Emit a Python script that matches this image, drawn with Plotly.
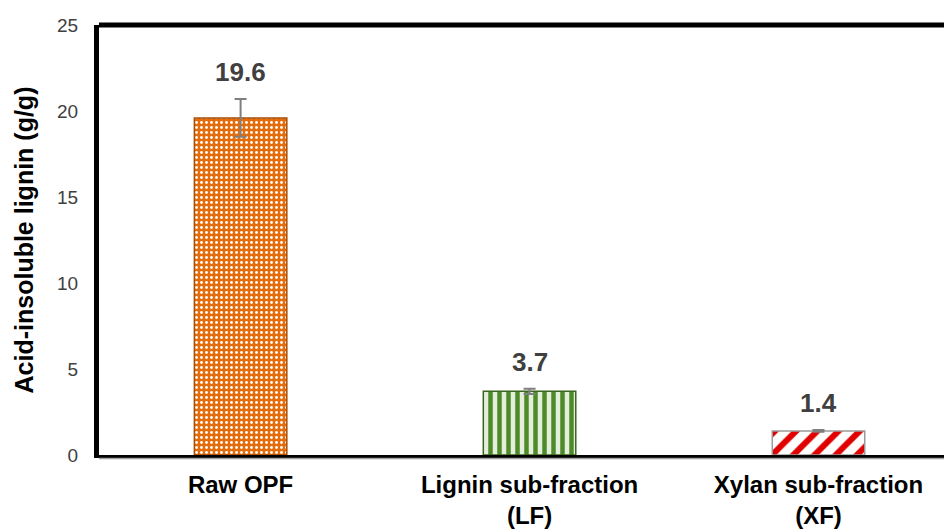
import plotly.graph_objects as go

categories = ["Raw OPF", "Lignin sub-fraction<br>(LF)", "Xylan sub-fraction<br>(XF)"]
values = [19.6, 3.7, 1.4]
errors = [1.1, 0.15, 0.05]
labels = ["19.6", "3.7", "1.4"]
y_ticks = [0, 5, 10, 15, 20, 25]

styles = [
    dict(shape=".", fg="#FFFFFF", bg="#E46C0A", size=5, solidity=0.25, edge="#A84E06"),
    dict(shape="|", fg="#4E8A2A", bg="#E3EFDA", size=9, solidity=0.5, edge="#3A6620"),
    dict(shape="/", fg="#E00000", bg="#FFFFFF", size=15, solidity=0.4, edge="#9A9A9A"),
]

x_pos = list(range(len(categories)))

fig = go.Figure()
for xi, v, e, s in zip(x_pos, values, errors, styles):
    fig.add_trace(go.Bar(
        x=[xi], y=[v], width=0.32,
        marker=dict(
            color=s["bg"],
            line=dict(color=s["edge"], width=1.5),
            pattern=dict(shape=s["shape"], fgcolor=s["fg"], bgcolor=s["bg"],
                         size=s["size"], solidity=s["solidity"], fillmode="replace"),
        ),
        error_y=dict(type="data", array=[e], visible=True,
                     color="#7F7F7F", thickness=2, width=6),
        showlegend=False,
    ))

for xi, v, e, t in zip(x_pos, values, errors, labels):
    fig.add_annotation(x=xi, y=v + e, text=f"<b>{t}</b>", showarrow=False,
                       yshift=27, yanchor="middle",
                       font=dict(family="Arial, Liberation Sans", size=26, color="#404040"))

# top border
fig.add_shape(type="line", xref="paper", yref="y domain", x0=0, x1=1, y0=1, y1=1,
              line=dict(color="black", width=5))
# gray double line under x axis
fig.add_shape(type="line", xref="paper", yref="y domain", x0=0, x1=1,
              ysizemode="pixel", yanchor=0, y0=-3.5, y1=-3.5,
              line=dict(color="#A0A0A0", width=1.5))

fig.update_layout(
    width=944, height=523,
    margin=dict(l=91, r=0, t=17, b=76),
    paper_bgcolor="white", plot_bgcolor="white",
    font=dict(family="Arial, Liberation Sans", color="black"),
    barmode="overlay",
)
fig.update_xaxes(
    range=[-0.49, 2.462], tickvals=x_pos,
    ticktext=[f"<b>{c}</b>".replace("<br>", "</b><br><b>") for c in categories],
    showline=True, linecolor="black", linewidth=2.5,
    showgrid=False, zeroline=False, ticks="", automargin=False,
    ticklabelstandoff=6,
    tickfont=dict(size=24, color="black", family="Arial, Liberation Sans"),
    tickangle=0,
)
fig.update_yaxes(
    range=[0, 25], tickvals=y_ticks,
    showline=True, linecolor="black", linewidth=5,
    showgrid=False, zeroline=False, ticks="", automargin=False,
    ticklabelstandoff=12,
    tickfont=dict(size=19, color="#404040", family="Arial, Liberation Sans"),
    title=dict(text="<b>Acid-insoluble lignin (g/g)</b>", standoff=18,
               font=dict(size=25, color="black", family="Arial, Liberation Sans")),
)

fig.write_html("out.html")
